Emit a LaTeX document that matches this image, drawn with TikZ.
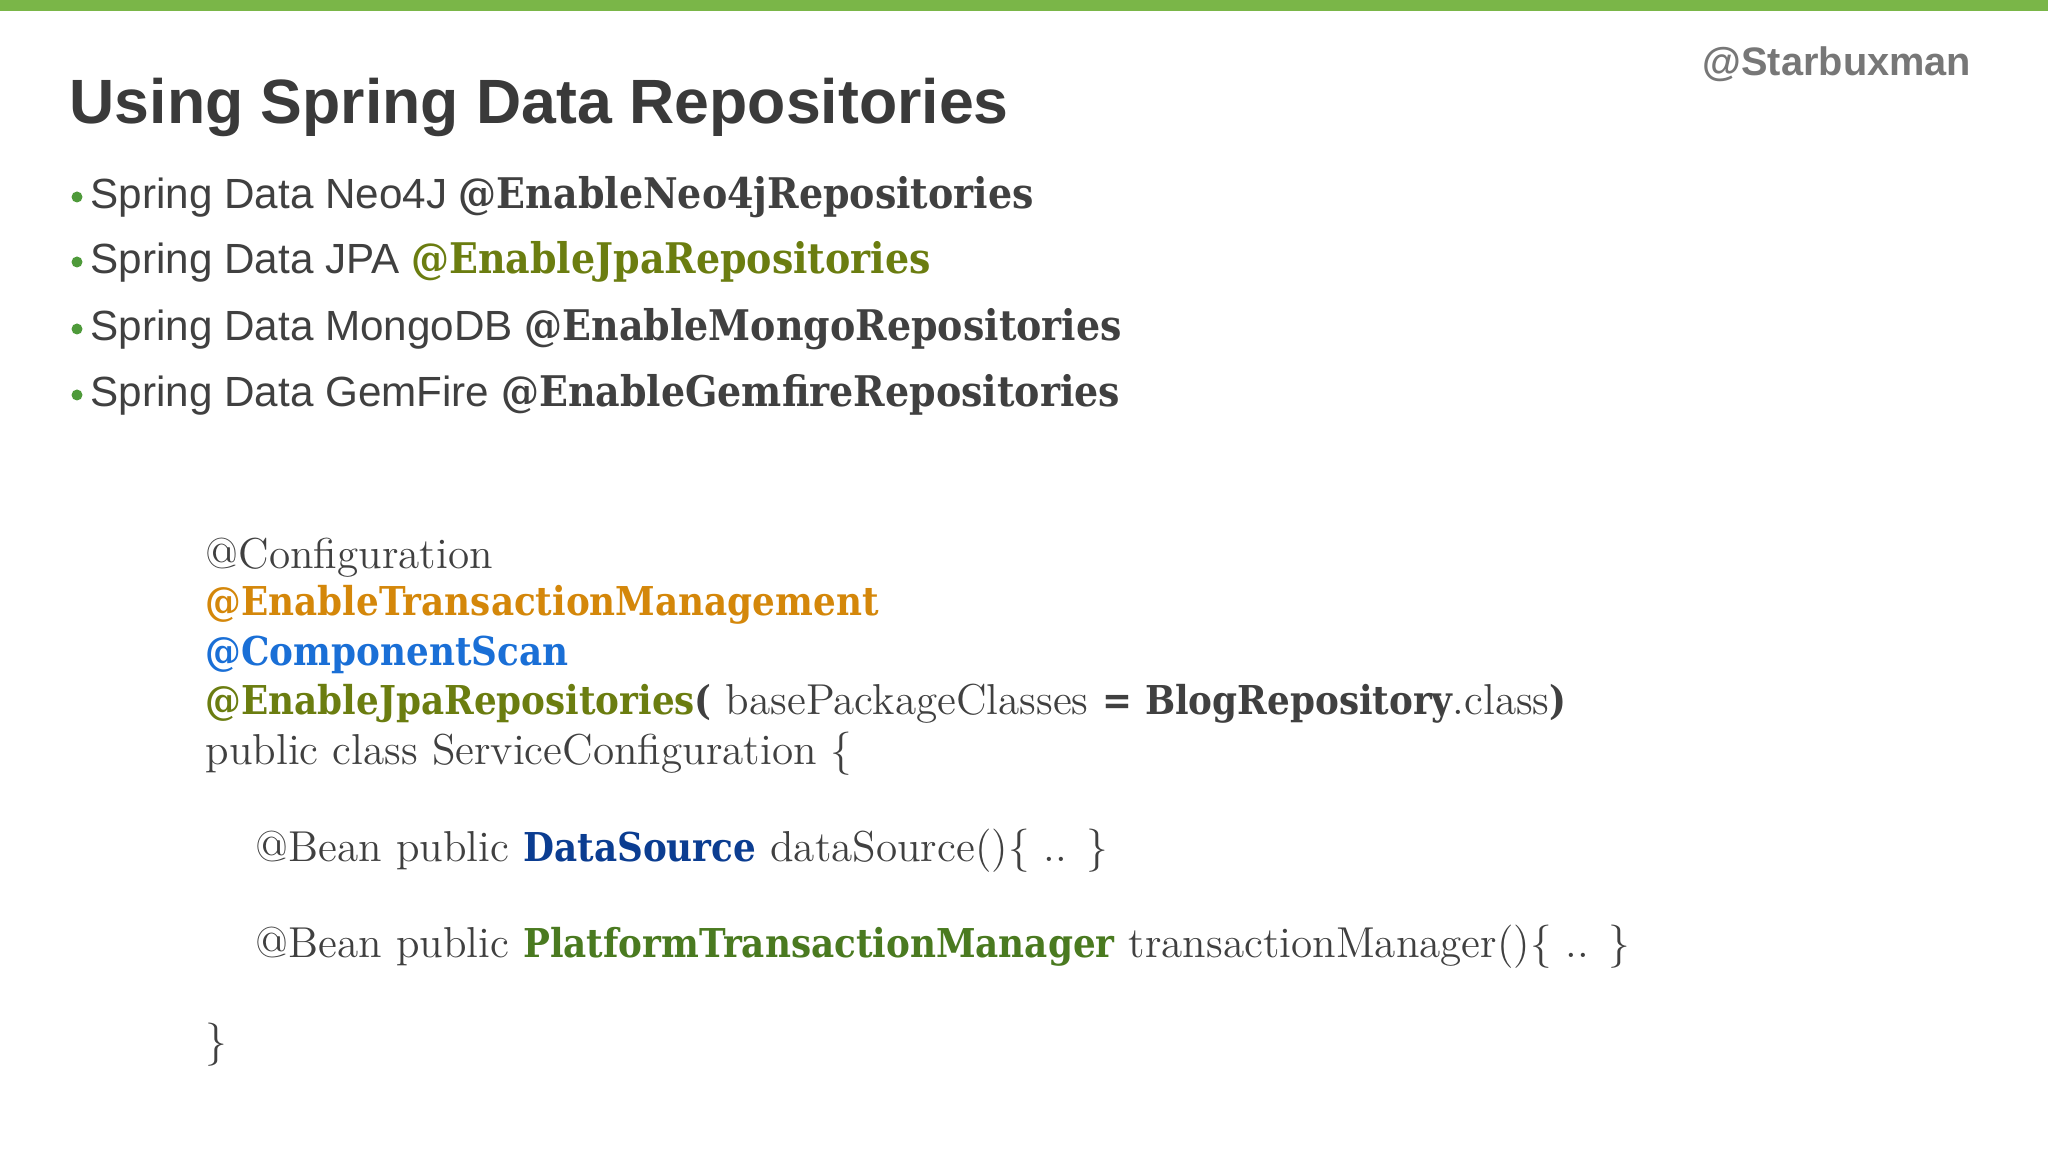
\documentclass[tikz,border=0pt]{standalone}
\usepackage{fontspec}
\setmainfont{Liberation Sans}
\newfontfamily\slab{DejaVu Serif Condensed}[BoldFont={DejaVu Serif Condensed Bold}]
\newfontfamily\code{Latin Modern Roman}
\definecolor{topgreen}{HTML}{7AB648}
\definecolor{ttl}{HTML}{3A3A3A}
\definecolor{handle}{HTML}{777777}
\definecolor{txt}{HTML}{404040}
\definecolor{bul}{HTML}{4E9A3A}
\definecolor{olive}{HTML}{6B7D10}
\definecolor{orng}{HTML}{D4870A}
\definecolor{cblue}{HTML}{1A6FD6}
\definecolor{dblue}{HTML}{0B3D91}
\definecolor{dgreen}{HTML}{4A7A20}
\tikzset{
  t/.style={anchor=base west,inner sep=0pt},
  bl/.style={t,font=\fontsize{12}{14}\selectfont,text=txt},
  cl/.style={t,font=\code\fontsize{12.3}{15}\selectfont,text=txt},
}
\newcommand{\slb}[1]{{\slab\bfseries #1}}
\newcommand{\slc}[1]{{\slab\bfseries\fontsize{11.3}{14}\selectfont #1}}
\begin{document}
\begin{tikzpicture}[x=0.01cm,y=-0.01cm]
\useasboundingbox (0,0) rectangle (2048,1152);
\fill[topgreen] (0,0) rectangle (2048,11);
\node[t,font=\bfseries\fontsize{17.8}{21}\selectfont,text=ttl] (title) at (69,124) {Using Spring Data Repositories};
\node[t,font=\bfseries\fontsize{11.3}{14}\selectfont,text=handle] (h) at (1702,76) {@Starbuxman};
\foreach \y in {209,274,341,407}{\fill[bul] (77,\y-12) circle (5.5);}
\node[bl] (b1) at (90,209) {Spring Data Neo4J \slb{@EnableNeo4jRepositories}};
\node[bl] (b2) at (90,274) {Spring Data JPA \textcolor{olive}{\slb{@EnableJpaRepositories}}};
\node[bl] (b3) at (90,341) {Spring Data MongoDB \slb{@EnableMongoRepositories}};
\node[bl] (b4) at (90,407) {Spring Data GemFire \slb{@EnableGemfireRepositories}};
\node[cl] (c1) at (205,569) {@Configuration};
\node[cl] (c2) at (205,616) {\textcolor{orng}{\slc{@EnableTransactionManagement}}};
\node[cl] (c3) at (205,666) {\textcolor{cblue}{\slc{@ComponentScan}}};
\node[cl] (c4) at (205,714) {\textcolor{olive}{\slc{@EnableJpaRepositories}}\slc{(} basePackageClasses \slc{= BlogRepository}.class\slc{)}};
\node[cl] (c5) at (205,764) {public class ServiceConfiguration \{};
\node[cl] (c6) at (255,861) {@Bean public \textcolor{dblue}{\slc{DataSource}} dataSource()\{ .. \}};
\node[cl] (c7) at (255,957) {@Bean public \textcolor{dgreen}{\slc{PlatformTransactionManager}} transactionManager()\{ .. \}};
\node[cl] (c8) at (205,1055) {\}};
\end{tikzpicture}
\end{document}
